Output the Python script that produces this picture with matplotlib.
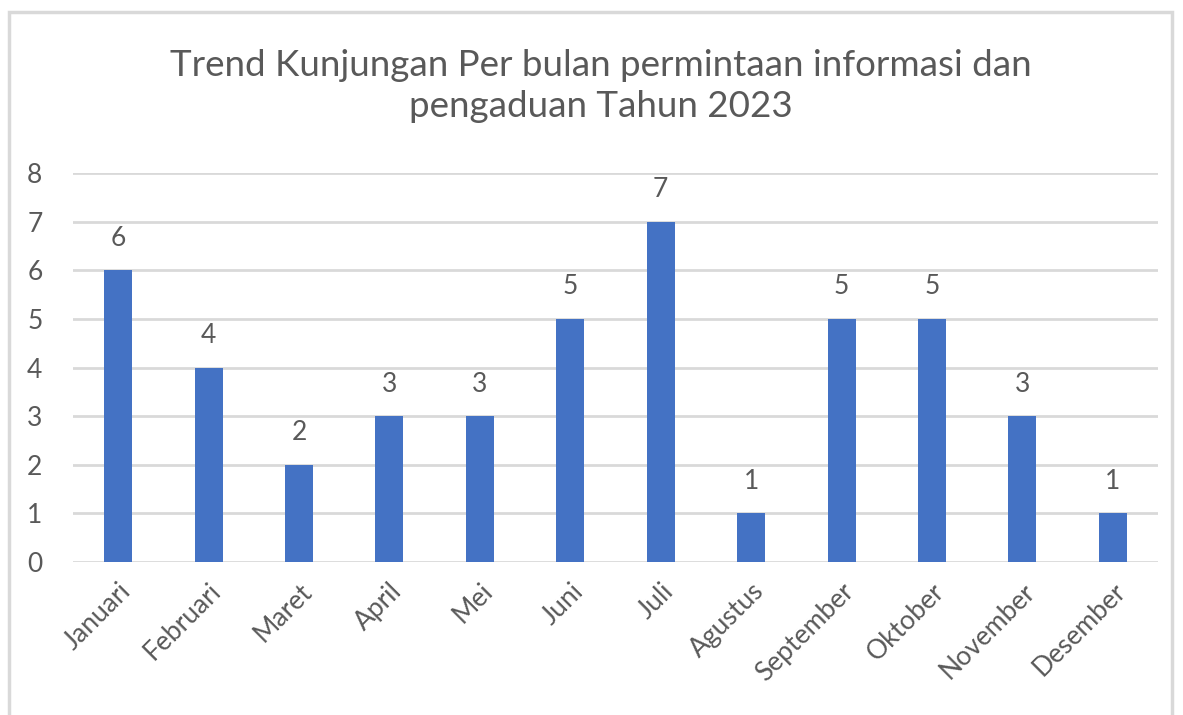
import numpy as np
import matplotlib.pyplot as plt
from matplotlib.patches import Rectangle

plt.rcParams['font.family'] = ['Lato', 'DejaVu Sans']

bulan = ['Januari', 'Februari', 'Maret', 'April', 'Mei', 'Juni', 'Juli',
         'Agustus', 'September', 'Oktober', 'November', 'Desember']
kunjungan = [6, 4, 2, 3, 3, 5, 7, 1, 5, 5, 3, 1]
judul = 'Trend Kunjungan Per bulan permintaan informasi dan\npengaduan Tahun 2023'

teks = '#595959'
grid = '#D9D9D9'
biru = '#4472C4'

fig = plt.figure(figsize=(11.83, 7.15), dpi=100)
# chart border like excel
fig.patches.append(Rectangle((9 / 1183, -0.05), (1172 - 9) / 1183, 1.05 - 12 / 715,
                             transform=fig.transFigure, fill=False,
                             edgecolor='#D9D9D9', linewidth=2.5))

ax = fig.add_axes([73 / 1183, 1 - 562 / 715, (1158 - 73) / 1183, (562 - 173) / 715])
x = np.arange(len(bulan))
bars = ax.bar(x, kunjungan, width=0.31, color=biru, zorder=3)

ax.set_xlim(-0.5, len(bulan) - 0.5)
ax.set_ylim(0, 8)
ax.set_yticks(range(0, 9))
ax.yaxis.grid(True, color=grid, linewidth=2, zorder=0)
for s in ax.spines.values():
    s.set_visible(False)
ax.tick_params(axis='both', length=0, colors=teks, labelsize=19)
ax.tick_params(axis='y', pad=22)

ax.set_xticks(x)
ax.set_xticklabels(bulan, rotation=45, ha='right', va='top', rotation_mode='anchor')
ax.tick_params(axis='x', pad=12)

for b, v in zip(bars, kunjungan):
    ax.annotate(str(v), (b.get_x() + b.get_width() / 2, v), xytext=(0, 14),
                textcoords='offset points', ha='center', va='bottom',
                color=teks, fontsize=19)

fig.text(0.508, 1 - 86 / 715, judul, ha='center', va='center', color=teks,
         fontsize=26.5, linespacing=1.3)

fig.savefig('out.png', dpi=100, facecolor='white')
